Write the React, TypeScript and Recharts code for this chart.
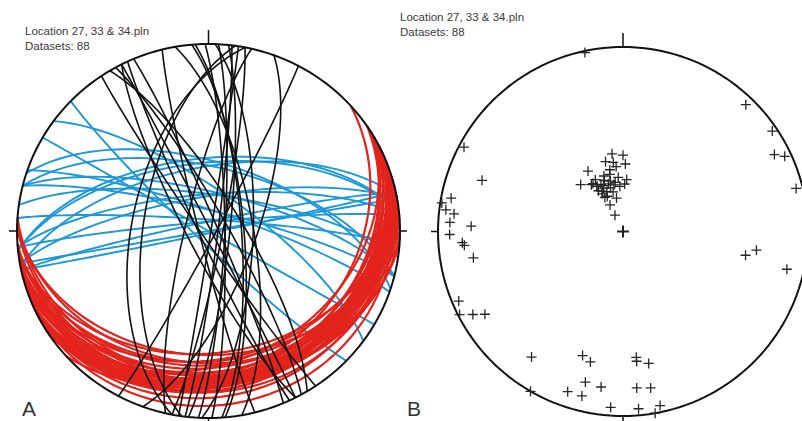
import React from 'react';
import { ComposedChart, Line, Scatter, XAxis, YAxis, ReferenceLine } from 'recharts';

// Poles to planes as [trend°, plunge°]
const bluePoles: [number, number][] = [
  [348, 1], [44, 5], [216, 17], [198, 30], [194, 28], [174, 32], [174, 30], [169, 28],
  [210, 0], [199, 9], [194, 17], [194, 9], [188, 16], [175, 16], [170, 15], [184, 5],
  [175, 4], [170, 0], [168, 4],
];

const blackPoles: [number, number][] = [
  [56, 3], [63, 9], [65, 4], [76, 4], [101, 33], [98, 28], [103, 10], [298, 3],
  [290, 20], [279, 1], [281, 6], [277, 4], [276, 9], [273, 7], [272, 19], [269, 7],
  [266, 14], [265, 15], [260, 19], [247, 4], [243, 1], [241, 8], [239, 14],
];

const redPoles: [number, number][] = [
  [352, 55], [0, 56], [346, 58], [352, 59], [2, 60], [354, 61], [330, 59], [347, 64],
  [4, 67], [318, 62], [332, 64], [335, 67], [330, 67], [336, 69], [343, 68], [351, 68],
  [356, 70], [331, 71], [346, 72], [336, 73], [349, 75], [334, 77], [334, 82], [329, 69],
  [332, 73], [2, 69], [328, 65], [346, 67], [337, 68], [344, 70], [330, 67], [340, 66],
  [326, 65], [349, 69], [341, 64], [333, 70], [348, 62], [338, 71], [355, 66],
];

const titleLine1 = 'Location 27, 33 & 34.pln';
const titleLine2 = 'Datasets: 88';
const panelLabels = ['A', 'B'];

const D = Math.PI / 180;
type Pt = { x: number; y: number };

function project(e: number, n: number, d: number): Pt {
  const k = 1 / Math.sqrt(1 + Math.max(0, d));
  return { x: e * k, y: n * k };
}

function polePoint([t, p]: [number, number]): Pt {
  return project(Math.cos(p * D) * Math.sin(t * D), Math.cos(p * D) * Math.cos(t * D), Math.sin(p * D));
}

function greatCircle([t, p]: [number, number]): Pt[] {
  const dd = t + 180;
  const dip = 90 - p;
  const s = dd - 90;
  const pts: Pt[] = [];
  for (let th = 0; th <= 180; th += 3) {
    const c = Math.cos(th * D);
    const si = Math.sin(th * D);
    const e = c * Math.sin(s * D) + si * Math.cos(dip * D) * Math.sin(dd * D);
    const n = c * Math.cos(s * D) + si * Math.cos(dip * D) * Math.cos(dd * D);
    const dz = si * Math.sin(dip * D);
    pts.push(project(e, n, dz));
  }
  return pts;
}

const primitive: Pt[] = [];
for (let a = 0; a <= 360; a += 2) primitive.push({ x: Math.sin(a * D), y: Math.cos(a * D) });

const Cross = (props: any) => {
  const { cx, cy } = props;
  if (cx == null || cy == null) return <g />;
  return (
    <path d={`M${cx - 5},${cy}H${cx + 5}M${cx},${cy - 5}V${cy + 5}`} stroke="#262626" strokeWidth={1.3} fill="none" />
  );
};

const textStyle: React.CSSProperties = {
  position: 'absolute',
  fontFamily: '"Liberation Sans", Arial, sans-serif',
  fontSize: 11.5,
  lineHeight: '15px',
  color: '#3a3a3a',
  whiteSpace: 'nowrap',
};

const labelStyle: React.CSSProperties = {
  position: 'absolute',
  fontFamily: '"Liberation Sans", Arial, sans-serif',
  fontSize: 21,
  lineHeight: '21px',
  color: '#333',
};

const tick = { stroke: '#111', strokeWidth: 1.5 };

export default function App() {
  const allPoles = [...redPoles, ...blackPoles, ...bluePoles].map(polePoint);
  return (
    <div style={{ position: 'absolute', left: 0, top: 0, width: 802, height: 421, overflow: 'hidden', background: '#fff' }}>
      <div style={{ position: 'absolute', left: 0, top: 0 }}>
        <ComposedChart width={420} height={421} margin={{ top: 44, left: 17, right: 20, bottom: 3 }}>
          <XAxis type="number" dataKey="x" domain={[-1, 1]} hide />
          <YAxis type="number" dataKey="y" domain={[-1, 1]} hide />
          {bluePoles.map((p, i) => (
            <Line key={'b' + i} data={greatCircle(p)} dataKey="y" type="linear" dot={false} activeDot={false}
              stroke="#1c98d8" strokeWidth={1.9} isAnimationActive={false} />
          ))}
          {redPoles.map((p, i) => (
            <Line key={'r' + i} data={greatCircle(p)} dataKey="y" type="linear" dot={false} activeDot={false}
              stroke="#e3241d" strokeWidth={2.2} isAnimationActive={false} />
          ))}
          {blackPoles.map((p, i) => (
            <Line key={'k' + i} data={greatCircle(p)} dataKey="y" type="linear" dot={false} activeDot={false}
              stroke="#111" strokeWidth={1.6} isAnimationActive={false} />
          ))}
          <Line data={primitive} dataKey="y" type="linear" dot={false} activeDot={false} stroke="#111" strokeWidth={2} isAnimationActive={false} />
          <ReferenceLine segment={[{ x: 0, y: 1 }, { x: 0, y: 1.075 }]} ifOverflow="visible" {...tick} />
          <ReferenceLine segment={[{ x: 0, y: -1 }, { x: 0, y: -1.03 }]} ifOverflow="visible" {...tick} />
          <ReferenceLine segment={[{ x: -1, y: 0 }, { x: -1.042, y: 0 }]} ifOverflow="visible" {...tick} />
          <ReferenceLine segment={[{ x: 1, y: 0 }, { x: 1.036, y: 0 }]} ifOverflow="visible" {...tick} />
        </ComposedChart>
      </div>
      <div style={{ position: 'absolute', left: 420, top: 0 }}>
        <ComposedChart width={400} height={421} margin={{ top: 47, left: 18, right: 12, bottom: 5 }}>
          <XAxis type="number" dataKey="x" domain={[-1, 1]} hide />
          <YAxis type="number" dataKey="y" domain={[-1, 1]} hide />
          <Line data={primitive} dataKey="y" type="linear" dot={false} activeDot={false} stroke="#111" strokeWidth={2} isAnimationActive={false} />
          <Scatter data={allPoles} dataKey="y" shape={Cross} isAnimationActive={false} />
          <ReferenceLine segment={[{ x: 0, y: 1 }, { x: 0, y: 1.076 }]} ifOverflow="visible" {...tick} />
          <ReferenceLine segment={[{ x: 0, y: -1 }, { x: 0, y: -1.03 }]} ifOverflow="visible" {...tick} />
          <ReferenceLine segment={[{ x: -1, y: 0 }, { x: -1.038, y: 0 }]} ifOverflow="visible" {...tick} />
          <ReferenceLine segment={[{ x: -0.032, y: 0 }, { x: 0.032, y: 0 }]} ifOverflow="visible" stroke="#222" strokeWidth={2} />
          <ReferenceLine segment={[{ x: 0, y: -0.032 }, { x: 0, y: 0.032 }]} ifOverflow="visible" stroke="#222" strokeWidth={2} />
        </ComposedChart>
      </div>
      <div style={{ ...textStyle, left: 25, top: 24 }}>{titleLine1}<br />{titleLine2}</div>
      <div style={{ ...textStyle, left: 400, top: 9.5 }}>{titleLine1}<br />{titleLine2}</div>
      <div style={{ ...labelStyle, left: 22, top: 398 }}>{panelLabels[0]}</div>
      <div style={{ ...labelStyle, left: 407, top: 398 }}>{panelLabels[1]}</div>
    </div>
  );
}
